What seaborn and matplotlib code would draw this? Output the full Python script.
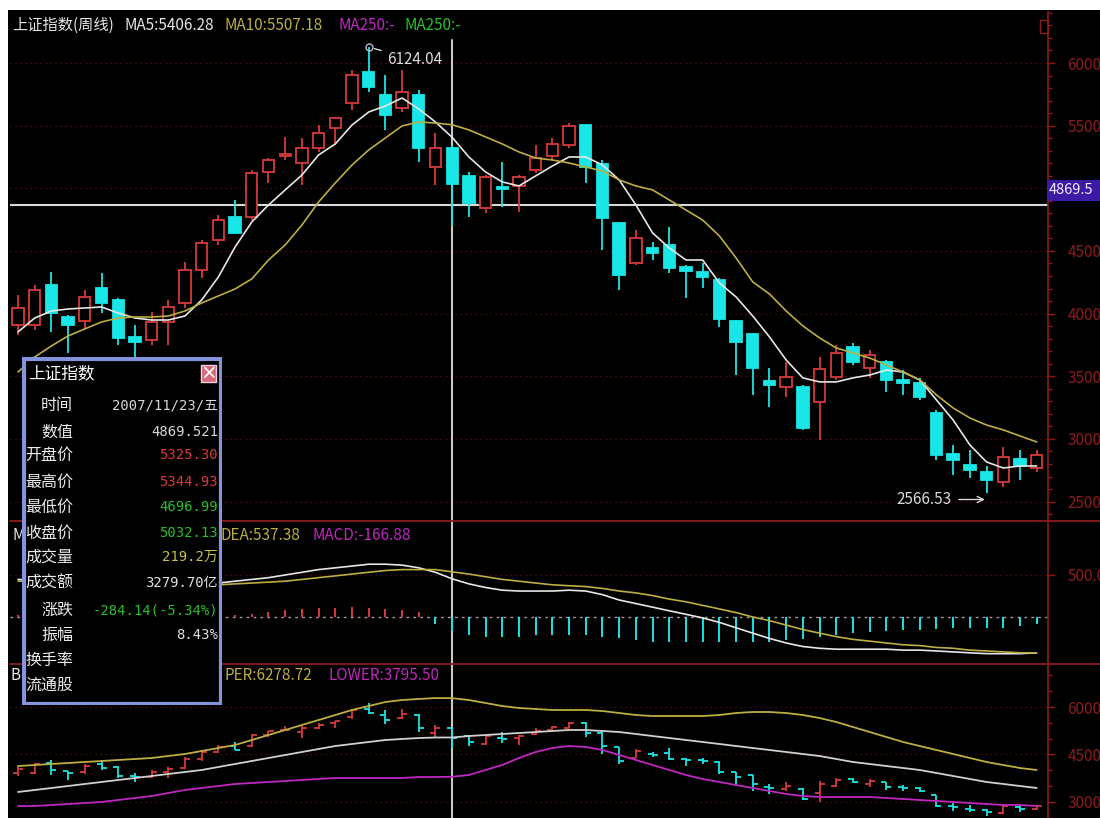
import numpy as np
import pandas as pd
import seaborn as sns
import matplotlib.pyplot as plt
from matplotlib.patches import Rectangle
from matplotlib.lines import Line2D
from matplotlib.ticker import MultipleLocator
from matplotlib.colors import LinearSegmentedColormap
from matplotlib.transforms import Bbox, TransformedBbox

# weekly candles
open_ = [3909, 3909, 4229, 3973, 3941, 4205, 4109, 3814, 3790, 3933,
         4085, 4348, 4588, 4771, 4771, 5130, 5258, 5202, 5322, 5482,
         5681, 5928, 5745, 5641, 5745, 5170, 5325.30, 5099, 4843, 5011,
         5019, 5146, 5258, 5346, 5505, 5194, 4723, 4404, 4524, 4548,
         4372, 4332, 4269, 3941, 3838, 3463, 3415, 3415, 3295, 3495,
         3734, 3566, 3614, 3471, 3447, 3207, 2880, 2792, 2736, 2657,
         2840, 2768]
high = [4149, 4229, 4332, 3989, 4189, 4324, 4125, 3909, 4013, 4109,
        4412, 4588, 4787, 4907, 5146, 5242, 5410, 5402, 5505, 5570,
        5944, 6124.04, 5904, 5944, 5785, 5442, 5344.93, 5130, 5107, 5210,
        5107, 5346, 5402, 5521, 5513, 5226, 4731, 4668, 4572, 4692,
        4388, 4404, 4285, 3949, 3846, 3566, 3614, 3431, 3654, 3750,
        3766, 3710, 3630, 3550, 3487, 3231, 2952, 2912, 2784, 2936,
        2912, 2912]
low = [3830, 3870, 3854, 3686, 3870, 4005, 3750, 3630, 3750, 3750,
       4045, 4285, 4548, 4640, 4747, 5043, 5226, 5027, 5290, 5346,
       5625, 5769, 5466, 5609, 5210, 5027, 4696.99, 4771, 4803, 4851,
       4811, 5122, 5226, 5322, 5043, 4508, 4189, 4388, 4428, 4324,
       4125, 4205, 3893, 3510, 3351, 3255, 3335, 3072, 2992, 3471,
       3590, 3487, 3375, 3351, 3311, 2832, 2712, 2689, 2566.53, 2617,
       2673, 2736]
close = [4045, 4189, 4005, 3909, 4133, 4085, 3806, 3774, 3933, 4053,
         4348, 4564, 4747, 4644, 5122, 5226, 5274, 5322, 5442, 5561,
         5904, 5809, 5585, 5769, 5322, 5322, 5032.13, 4883, 5091, 4995,
         5091, 5242, 5354, 5498, 5170, 4763, 4308, 4604, 4484, 4364,
         4340, 4292, 3957, 3774, 3566, 3431, 3495, 3088, 3558, 3686,
         3614, 3670, 3471, 3447, 3335, 2872, 2832, 2752, 2673, 2856,
         2784, 2872]
ma5 = [3854, 3965, 4021, 4037, 4045, 4053, 4005, 3965, 3949, 3949,
       3981, 4109, 4293, 4532, 4731, 4867, 4987, 5106, 5266, 5354,
       5505, 5609, 5657, 5721, 5633, 5529, 5406.28, 5250, 5130, 5051,
       5019, 5099, 5178, 5250, 5250, 5186, 5067, 4867, 4644, 4524,
       4428, 4428, 4245, 4133, 3981, 3814, 3630, 3487, 3455, 3455,
       3487, 3510, 3550, 3534, 3471, 3311, 3151, 2952, 2816, 2768,
       2784, 2784]
ma10 = [3534, 3654, 3742, 3822, 3878, 3933, 3965, 3973, 3973, 3981,
        4021, 4085, 4141, 4197, 4277, 4428, 4548, 4707, 4891, 5043,
        5186, 5306, 5402, 5498, 5529, 5521, 5507.18, 5466, 5410, 5354,
        5290, 5242, 5226, 5202, 5170, 5138, 5067, 5019, 4987, 4907,
        4827, 4747, 4620, 4444, 4253, 4157, 4021, 3902, 3806, 3726,
        3686, 3646, 3590, 3534, 3471, 3351, 3247, 3167, 3111, 3072,
        3024, 2976]
dif = [447, 436, 426, 415, 404, 394, 383, 372, 362, 362,
       372, 383, 404, 426, 447, 468, 500, 532, 564, 585,
       606, 628, 628, 617, 585, 532, 453.94, 394, 351, 319,
       309, 309, 309, 319, 309, 266, 202, 160, 117, 74,
       32, -11, -64, -128, -192, -255, -309, -351, -372, -383,
       -383, -383, -383, -394, -394, -404, -415, -426, -436, -436,
       -436, -426]
dea = [426, 426, 426, 426, 415, 415, 404, 404, 394, 383,
       383, 383, 383, 394, 404, 415, 426, 447, 468, 489,
       511, 532, 553, 564, 564, 564, 537.38, 511, 479, 447,
       426, 404, 383, 372, 362, 340, 309, 287, 255, 213,
       181, 138, 96, 53, 0, -43, -96, -149, -192, -234,
       -266, -287, -309, -330, -340, -362, -372, -394, -404, -415,
       -426, -426]
macd = [21, 21, 0, -21, -21, -21, -43, -43, -43, -21,
        0, 0, 21, 21, 32, 64, 85, 96, 106, 106,
        117, 106, 96, 85, 64, -85, -166.88, -213, -234, -234,
        -234, -213, -213, -213, -213, -234, -255, -277, -298, -298,
        -298, -298, -298, -298, -298, -298, -277, -266, -234, -213,
        -192, -181, -170, -160, -149, -138, -128, -128, -128, -128,
        -106, -85]
boll_upper = [4135, 4167, 4199, 4230, 4262, 4293, 4325, 4357, 4388, 4451,
              4515, 4609, 4704, 4799, 4957, 5115, 5273, 5431, 5589, 5747,
              5905, 6031, 6158, 6221, 6253, 6284, 6278.72, 6221, 6126, 6031,
              5968, 5937, 5905, 5905, 5905, 5873, 5810, 5747, 5715, 5715,
              5715, 5715, 5747, 5810, 5842, 5842, 5810, 5747, 5652, 5526,
              5368, 5210, 5052, 4894, 4767, 4641, 4515, 4388, 4262, 4167,
              4072, 4009]
boll_mid = [3314, 3377, 3440, 3503, 3567, 3630, 3693, 3756, 3819, 3883,
            3946, 4009, 4104, 4199, 4293, 4388, 4483, 4578, 4673, 4767,
            4831, 4894, 4957, 4989, 5020, 5036, 5037.11, 5083, 5115, 5147,
            5178, 5210, 5241, 5273, 5273, 5241, 5210, 5147, 5083, 5020,
            4957, 4894, 4831, 4767, 4704, 4641, 4578, 4515, 4451, 4357,
            4262, 4199, 4135, 4072, 4009, 3914, 3819, 3725, 3630, 3567,
            3503, 3440]
boll_lower = [2871, 2871, 2903, 2935, 2966, 2998, 3061, 3124, 3187, 3282,
              3377, 3440, 3503, 3567, 3598, 3630, 3661, 3693, 3725, 3756,
              3756, 3756, 3756, 3756, 3788, 3788, 3795.50, 3851, 4009, 4167,
              4388, 4578, 4704, 4767, 4736, 4641, 4483, 4325, 4167, 4009,
              3851, 3725, 3630, 3535, 3440, 3345, 3251, 3187, 3156, 3156,
              3156, 3156, 3124, 3093, 3061, 3029, 2998, 2966, 2935, 2903,
              2903, 2871]

main_ticks = [2500, 3000, 3500, 4000, 4500, 5000, 5500, 6000]
main_labels = ['2500', '3000', '3500', '4000', '4500', '', '5500', '6000']
macd_ticks = [500]
boll_ticks = [3000, 4500, 6000]
cursor_idx = 26
cursor_value = 4869.521

info_labels = ['时间', '数值', '开盘价', '最高价', '最低价', '收盘价',
               '成交量', '成交额', '涨跌', '振幅', '换手率', '流通股']
info_values = ['2007/11/23/五', '4869.521', '5325.30', '5344.93', '4696.99',
               '5032.13', '219.2万', '3279.70亿', '-284.14(-5.34%)', '8.43%', '', '']

RED = '#d83a3a'
CYAN = '#19e6e6'
DRED = '#8c1c1c'
WHITE = '#e6e6e6'
YELLOW = '#bcae40'
MAGENTA = '#c026c0'
GREEN = '#28c028'

info_colors = ['#d8d8d8', '#d8d8d8', RED, RED, GREEN, GREEN,
               '#c8c040', '#e0e0e0', GREEN, '#e0e0e0', WHITE, WHITE]

df = pd.DataFrame({'open': open_, 'high': high, 'low': low, 'close': close,
                   'ma5': ma5, 'ma10': ma10, 'dif': dif, 'dea': dea, 'macd': macd,
                   'upper': boll_upper, 'mid': boll_mid, 'lower': boll_lower})
df['idx'] = np.arange(len(df))

sns.set_theme(style='dark', rc={'axes.facecolor': 'black', 'figure.facecolor': 'white'})
plt.rcParams['font.family'] = ['Noto Sans CJK SC', 'DejaVu Sans']
plt.rcParams['axes.unicode_minus'] = False

W, H = 1100, 818
fig = plt.figure(figsize=(11, 8.18), dpi=100)
fig.add_artist(Rectangle((8 / W, 0), 1, 1 - 10 / H, transform=fig.transFigure,
                         facecolor='black', edgecolor='none', zorder=-10))


def fax(x0, y0, x1, y1):
    return fig.add_axes([x0 / W, 1 - y1 / H, (x1 - x0) / W, (y1 - y0) / H])


def fpos(x, y):
    return x / W, 1 - y / H


ax_main = fax(10, 12, 1048, 521)
ax_macd = fax(10, 521, 1048, 664)
ax_boll = fax(10, 664, 1048, 818)

for ax in (ax_main, ax_macd, ax_boll):
    ax.set_facecolor('black')
    ax.set_xlim(-0.48, 61.68)
    ax.set_xticks([])
    for s in ('left', 'top', 'bottom'):
        ax.spines[s].set_visible(False)
    ax.spines['right'].set_color(DRED)
    ax.spines['right'].set_linewidth(1.2)
    ax.yaxis.tick_right()
    ax.tick_params(axis='y', which='major', direction='out', length=5, width=1,
                   color=DRED, labelcolor=DRED, labelsize=11, pad=9)
    ax.tick_params(axis='y', which='minor', direction='out', length=3, width=1,
                   color=DRED, right=True)
    ax.yaxis.grid(True, which='major', color='#5a1010', linestyle=(0, (1, 3)), lw=0.9)
    ax.xaxis.grid(False)

ax_main.axvline(cursor_idx, ymax=0.945, color='#c8c8c8', lw=1.5, zorder=1.5)
ax_macd.axvline(cursor_idx, color='#c8c8c8', lw=1.5, zorder=1.5)
ax_boll.axvline(cursor_idx, color='#c8c8c8', lw=1.5, zorder=1.5)

# ---- main candles ----
up = df['close'] >= df['open']
lo = np.minimum(df['open'], df['close'])
hgt = np.maximum((df['close'] - df['open']).abs(), 10)
for mask, face, col in ((up, 'black', RED), (~up, CYAN, CYAN)):
    ax_main.vlines(df['idx'][mask], df['low'][mask], df['high'][mask], color=col, lw=1.3, zorder=2)
    ax_main.bar(df['idx'][mask], hgt[mask], bottom=lo[mask], width=0.68,
                facecolor=face, edgecolor=col, lw=1.3, zorder=3)

sns.lineplot(data=df, x='idx', y='ma5', color=WHITE, lw=1.2, ax=ax_main, zorder=4)
sns.lineplot(data=df, x='idx', y='ma10', color=YELLOW, lw=1.2, ax=ax_main, zorder=4)
ax_main.set_ylim(2345, 6407)
ax_main.set_yticks(main_ticks)
ax_main.set_yticklabels(main_labels)
ax_main.yaxis.set_minor_locator(MultipleLocator(100))
ax_main.axhline(cursor_value, color='#d8d8d8', lw=1.5, zorder=1.5)

# peak / trough annotations
ax_main.plot([21], [df['high'][21]], 'o', ms=5, mfc='none', mec='#b8b8e0', zorder=6)
ax_main.annotate('6124.04', xy=(21.1, df['high'][21]), xytext=(22.1, 6024),
                 ha='left', va='center', color='#d8d8d8', fontsize=11,
                 arrowprops=dict(arrowstyle='-', color='#d8d8d8', lw=1, shrinkA=2, shrinkB=3))
ax_main.annotate('2566.53', xy=(57.9, df['low'][58] - 50), xytext=(52.6, df['low'][58] - 50),
                 ha='left', va='center', color='#d8d8d8', fontsize=11,
                 arrowprops=dict(arrowstyle='->', color='#d8d8d8', lw=1, shrinkA=3, shrinkB=0))

# header
for x, s, c in ((12, '上证指数(周线)', WHITE), (124, 'MA5:5406.28', WHITE),
                (224, 'MA10:5507.18', YELLOW), (338, 'MA250:-', MAGENTA),
                (405, 'MA250:-', GREEN)):
    ax_main.text(*fpos(x, 25), s, transform=fig.transFigure, color=c,
                 fontsize=11, ha='left', va='center')

# only the strip left of the info window shows the sub-panel titles
left_strip = TransformedBbox(Bbox([[10 / W, 0], [22 / W, 1]]), fig.transFigure)

# ---- MACD ----
bar_cols = [RED if v > 0 else CYAN for v in df['macd']]
ax_macd.vlines(df['idx'], 0, df['macd'], colors=bar_cols, lw=1.4, zorder=2)
sns.lineplot(data=df, x='idx', y='dif', color=WHITE, lw=1.2, ax=ax_macd, zorder=4)
sns.lineplot(data=df, x='idx', y='dea', color=YELLOW, lw=1.2, ax=ax_macd, zorder=4)
ax_macd.axhline(0, color='#9a9a9a', lw=1, ls=(0, (2, 3)), zorder=1)
ax_macd.set_ylim(-559, 1142)
ax_macd.set_yticks(macd_ticks)
ax_macd.set_yticklabels(['500.0'])
t = ax_macd.text(*fpos(12, 535), 'M', transform=fig.transFigure, color=WHITE,
                 fontsize=11, ha='left', va='center')
t.set_clip_box(left_strip)
t.set_clip_on(True)
for x, s, c in ((221, 'DEA:537.38', YELLOW), (312, 'MACD:-166.88', MAGENTA)):
    ax_macd.text(*fpos(x, 535), s, transform=fig.transFigure, color=c,
                 fontsize=11, ha='left', va='center')

# ---- BOLL ----
for mask, col in ((up, RED), (~up, CYAN)):
    xs = df['idx'][mask]
    ax_boll.vlines(xs, df['low'][mask], df['high'][mask], color=col, lw=1.3, zorder=3)
    ax_boll.hlines(df['open'][mask], xs - 0.3, xs, color=col, lw=1.3, zorder=3)
    ax_boll.hlines(df['close'][mask], xs, xs + 0.3, color=col, lw=1.3, zorder=3)
sns.lineplot(data=df, x='idx', y='upper', color=YELLOW, lw=1.3, ax=ax_boll, zorder=4)
sns.lineplot(data=df, x='idx', y='mid', color='#d0d0d0', lw=1.3, ax=ax_boll, zorder=4)
sns.lineplot(data=df, x='idx', y='lower', color=MAGENTA, lw=1.3, ax=ax_boll, zorder=4)
ax_boll.set_ylim(2492, 7359)
ax_boll.set_yticks(boll_ticks)
ax_boll.yaxis.set_minor_locator(MultipleLocator(500))
t = ax_boll.text(*fpos(11, 676), 'B', transform=fig.transFigure, color=WHITE,
                 fontsize=11, ha='left', va='center')
t.set_clip_box(left_strip)
t.set_clip_on(True)
for x, s, c in ((224, 'PER:6278.72', YELLOW), (328, 'LOWER:3795.50', MAGENTA)):
    ax_boll.text(*fpos(x, 676), s, transform=fig.transFigure, color=c,
                 fontsize=11, ha='left', va='center')

for ax in (ax_main, ax_macd, ax_boll):
    ax.set_xlabel('')
    ax.set_ylabel('')

# panel separators
for y in (521, 664):
    fig.add_artist(Line2D([10 / W, 1], [1 - y / H] * 2, transform=fig.transFigure,
                          color=DRED, lw=1.3, zorder=5))

# cursor value label on the price axis
fig.add_artist(Rectangle(fpos(1047, 201), 53 / W, 21 / H, transform=fig.transFigure,
                         facecolor='#3c1aa6', edgecolor='none', zorder=6))
fig.text(*fpos(1049, 190), '4869.5', color='#f0f0ff', fontsize=10.5,
         ha='left', va='center', zorder=7)
fig.add_artist(Rectangle(fpos(1040, 33), 8 / W, 13 / H, transform=fig.transFigure,
                         facecolor='none', edgecolor=DRED, lw=1, zorder=6))

# ---- info window ----
bx = fax(22, 357, 222, 705)
bx.set_zorder(10)
bx.axis('off')
bx.add_patch(Rectangle((1.5, 1.5), 197, 345, facecolor='black', edgecolor='#8494dc', lw=3))
cmap = LinearSegmentedColormap.from_list('tb', ['#6a7ed6', '#9cacee'])
bx.imshow(np.linspace(0, 1, 64)[None, :], extent=(3, 197, 30, 3), cmap=cmap, aspect='auto')
bx.text(6, 17, '上证指数', color='white', fontsize=12, ha='left', va='center')
bx.add_patch(Rectangle((179, 8), 15, 17, facecolor='#d66878', edgecolor='#f0d0e0', lw=1))
bx.text(186.5, 16.5, '×', color='white', fontsize=12, fontweight='bold',
        ha='center', va='center')
row_y = [48, 75, 98, 125, 150, 176, 200, 226, 253, 278, 303, 328]
for y, lab, val, col in zip(row_y, info_labels, info_values, info_colors):
    bx.text(51, y, lab, color='#ececec', fontsize=11.5, ha='right', va='center')
    if val:
        bx.text(196, y, val, color=col, fontsize=10, ha='right', va='center',
                family=['DejaVu Sans Mono', 'Noto Sans CJK SC'])
bx.set_xlim(0, 200)
bx.set_ylim(348, 0)

fig.savefig('out.png', dpi=100, facecolor='white')
